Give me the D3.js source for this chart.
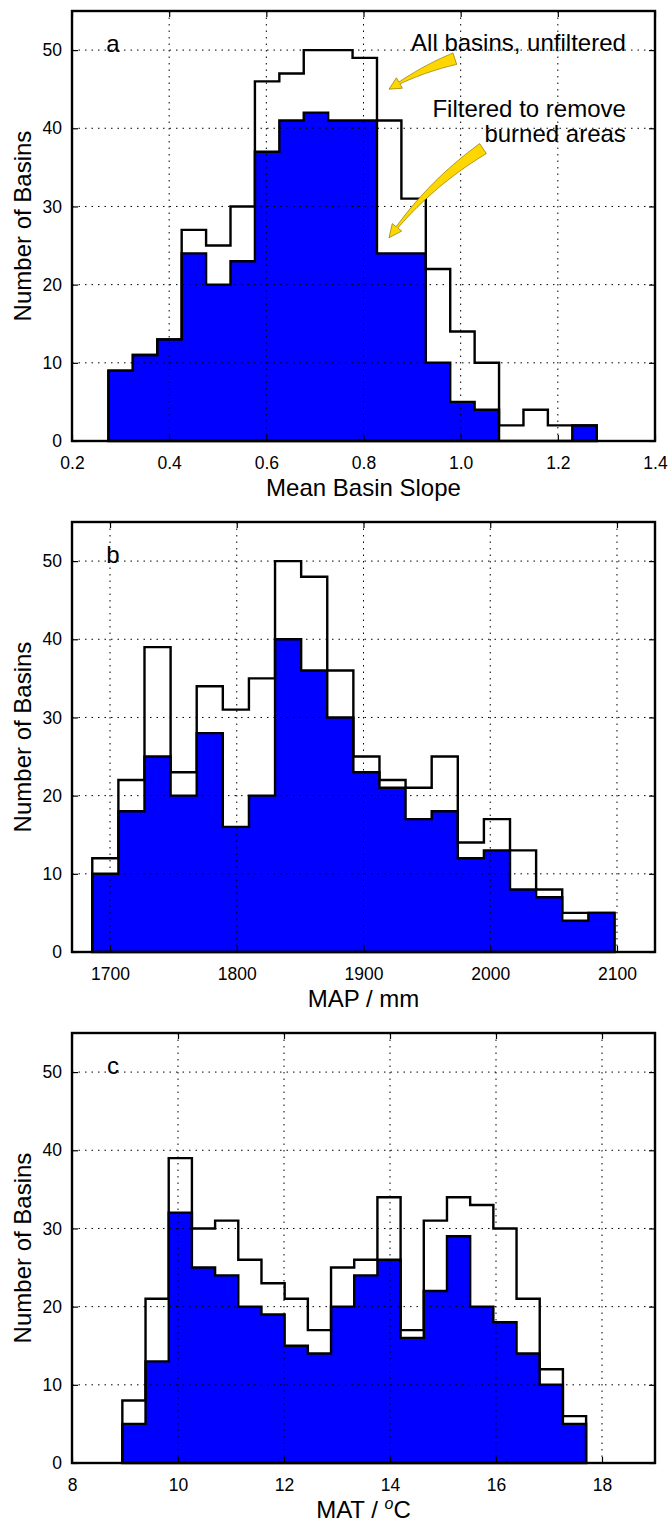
<!DOCTYPE html>
<html>
<head>
<meta charset="utf-8">
<script src="https://cdn.jsdelivr.net/npm/d3@7"></script>
<style>
  body { margin: 0; background: #fff; }
  svg { display: block; }
  text { font-family: "Liberation Sans", Arial, sans-serif; fill: #000; }
</style>
</head>
<body>
<svg width="672" height="1524"></svg>
<script>
// histogram counts, 20 bins per panel
const slopeBinStart = 0.275, slopeBinWidth = 0.05025;
const slopeAll      = [9, 11, 13, 27, 25, 30, 46, 47, 50, 50, 49, 41, 31, 22, 14, 10, 2, 4, 2, 2];
const slopeFiltered = [9, 11, 13, 24, 20, 23, 37, 41, 42, 41, 41, 24, 24, 10, 5, 4, 0, 0, 0, 2];

const mapBinStart = 1686, mapBinWidth = 20.6;
const mapAll      = [12, 22, 39, 23, 34, 31, 35, 50, 48, 36, 25, 22, 21, 25, 14, 17, 13, 8, 5, 5];
const mapFiltered = [10, 18, 25, 20, 28, 16, 20, 40, 36, 30, 23, 21, 17, 18, 12, 13, 8, 7, 4, 5];

const matBinStart = 8.95, matBinWidth = 0.4375;
const matAll      = [8, 21, 39, 30, 31, 26, 23, 21, 17, 25, 26, 34, 17, 31, 34, 33, 30, 21, 12, 6];
const matFiltered = [5, 13, 32, 25, 24, 20, 19, 15, 14, 20, 24, 26, 16, 22, 29, 20, 18, 14, 10, 5];

const yTicks = [0, 10, 20, 30, 40, 50];
const slopeTicks = [0.2, 0.4, 0.6, 0.8, 1.0, 1.2, 1.4];
const mapTicks = [1700, 1800, 1900, 2000, 2100];
const matTicks = [8, 10, 12, 14, 16, 18];

const svg = d3.select('svg');
const left = 72, right = 655;
const plotW = right - left, plotH = 430;
const tickFont = 17.5, labelFont = 24;

const panels = [
  { letter: 'a', top: 11, domain: [0.2, 1.4], ticks: slopeTicks, fmt: d3.format('.1f'),
    start: slopeBinStart, width: slopeBinWidth, all: slopeAll, filt: slopeFiltered, xLabel: 'Mean Basin Slope' },
  { letter: 'b', top: 522, domain: [1670, 2130], ticks: mapTicks, fmt: d3.format('d'),
    start: mapBinStart, width: mapBinWidth, all: mapAll, filt: mapFiltered, xLabel: 'MAP / mm' },
  { letter: 'c', top: 1033, domain: [8, 19], ticks: matTicks, fmt: d3.format('d'),
    start: matBinStart, width: matBinWidth, all: matAll, filt: matFiltered, xLabel: null }
];

function stepPoints(edges, vals) {
  const pts = [[edges[0], 0]];
  vals.forEach((v, i) => { pts.push([edges[i], v]); pts.push([edges[i + 1], v]); });
  pts.push([edges[edges.length - 1], 0]);
  return pts;
}

// matplotlib-like "fancy" arrow along a quadratic curve
function fancyArrow(g, p0, p1, p2) {
  const N = 60;
  const pts = d3.range(N + 1).map(i => {
    const t = i / N, u = 1 - t;
    return [u * u * p0[0] + 2 * u * t * p1[0] + t * t * p2[0],
            u * u * p0[1] + 2 * u * t * p1[1] + t * t * p2[1]];
  });
  const cum = [0];
  for (let i = 1; i <= N; i++) cum.push(cum[i - 1] + Math.hypot(pts[i][0] - pts[i - 1][0], pts[i][1] - pts[i - 1][1]));
  const L = cum[N], headL = 12, headW = 12, tailW = 10;
  const lefts = [], rights = [];
  let base = null;
  for (let i = 0; i <= N; i++) {
    if (cum[i] > L - headL) break;
    const a = pts[Math.max(i - 1, 0)], b = pts[Math.min(i + 1, N)];
    const dx = b[0] - a[0], dy = b[1] - a[1], len = Math.hypot(dx, dy);
    const nx = -dy / len, ny = dx / len;
    const w = (tailW * (1 - cum[i] / (L - headL)) + 2) / 2;
    lefts.push([pts[i][0] + nx * w, pts[i][1] + ny * w]);
    rights.push([pts[i][0] - nx * w, pts[i][1] - ny * w]);
    base = { p: pts[i], nx, ny };
  }
  const hb1 = [base.p[0] + base.nx * headW / 2, base.p[1] + base.ny * headW / 2];
  const hb2 = [base.p[0] - base.nx * headW / 2, base.p[1] - base.ny * headW / 2];
  const poly = lefts.concat([hb1, p2, hb2]).concat(rights.reverse());
  g.append('path')
    .attr('d', 'M' + poly.map(p => p.join(',')).join('L') + 'Z')
    .attr('fill', '#ffd700')
    .attr('stroke', '#8a7400')
    .attr('stroke-width', 0.7);
}

panels.forEach(p => {
  const g = svg.append('g').attr('transform', `translate(${left},${p.top})`);
  const x = d3.scaleLinear().domain(p.domain).range([0, plotW]);
  const y = d3.scaleLinear().domain([0, 55]).range([plotH, 0]);
  const edges = d3.range(p.all.length + 1).map(i => p.start + i * p.width);
  const line = d3.line().x(d => x(d[0])).y(d => y(d[1]));

  g.append('path')
    .attr('d', line(stepPoints(edges, p.filt)) + 'Z')
    .attr('fill', '#0000ff')
    .attr('stroke', '#000')
    .attr('stroke-width', 2.4)
    .attr('stroke-linejoin', 'miter');

  // dotted grid on top of the bars
  const grid = g.append('g').attr('stroke', '#000').attr('stroke-width', 1).attr('stroke-dasharray', '1.5,5');
  grid.selectAll('.gx').data(p.ticks).join('line')
    .attr('x1', d => x(d)).attr('x2', d => x(d)).attr('y1', 0).attr('y2', plotH);
  grid.selectAll('.gy').data(yTicks).join('line')
    .attr('x1', 0).attr('x2', plotW).attr('y1', d => y(d)).attr('y2', d => y(d));

  g.append('path')
    .attr('d', line(stepPoints(edges, p.all)))
    .attr('fill', 'none')
    .attr('stroke', '#000')
    .attr('stroke-width', 2.4)
    .attr('stroke-linejoin', 'miter');

  // axes with inward ticks on all four sides
  const xAxisG = g.append('g').attr('transform', `translate(0,${plotH})`)
    .call(d3.axisBottom(x).tickValues(p.ticks).tickFormat(p.fmt).tickSize(-6).tickPadding(15.5));
  const yAxisG = g.append('g')
    .call(d3.axisLeft(y).tickValues(yTicks).tickSize(-6).tickPadding(10));
  g.append('g').call(d3.axisTop(x).tickValues(p.ticks).tickFormat('').tickSize(-6));
  g.append('g').attr('transform', `translate(${plotW},0)`)
    .call(d3.axisRight(y).tickValues(yTicks).tickFormat('').tickSize(-6));
  g.selectAll('.domain').remove();
  g.selectAll('.tick line').attr('stroke', '#000').attr('stroke-width', 1.2);
  [xAxisG, yAxisG].forEach(a => a.selectAll('text')
    .attr('font-size', tickFont).attr('font-family', '"Liberation Sans", Arial, sans-serif').attr('fill', '#000'));

  g.append('rect')
    .attr('width', plotW).attr('height', plotH)
    .attr('fill', 'none').attr('stroke', '#000').attr('stroke-width', 2.4);

  g.append('text')
    .attr('x', 41).attr('y', y(50)).attr('dy', '0.1em')
    .attr('text-anchor', 'middle').attr('font-size', labelFont)
    .text(p.letter);

  g.append('text')
    .attr('transform', `translate(${22 - left},${plotH / 2}) rotate(-90)`)
    .attr('dy', '0.36em')
    .attr('text-anchor', 'middle').attr('font-size', labelFont)
    .text('Number of Basins');

  const xl = g.append('text')
    .attr('x', plotW / 2).attr('y', plotH + 55)
    .attr('text-anchor', 'middle').attr('font-size', labelFont);
  if (p.xLabel) {
    xl.text(p.xLabel);
  } else {
    xl.append('tspan').text('MAT / ');
    xl.append('tspan').attr('font-style', 'italic').attr('font-size', 16).attr('dy', -9).text('o');
    xl.append('tspan').attr('dy', 9).text('C');
  }

  if (p.letter === 'a') {
    g.append('text')
      .attr('x', x(1.34)).attr('y', y(49.9))
      .attr('text-anchor', 'end').attr('font-size', labelFont)
      .text('All basins, unfiltered');
    g.append('text')
      .attr('x', x(1.34)).attr('y', y(41.5))
      .attr('text-anchor', 'end').attr('font-size', labelFont)
      .text('Filtered to remove');
    g.append('text')
      .attr('x', x(1.34)).attr('y', y(38.2))
      .attr('text-anchor', 'end').attr('font-size', labelFont)
      .text('burned areas');

    const t1 = [x(0.988), y(48.9)], h1 = [x(0.8525), y(45)];
    const t2 = [x(1.046), y(37.4)], h2 = [x(0.8525), y(26)];
    fancyArrow(g, t1, [(t1[0] + h1[0]) / 2 - 2, (t1[1] + h1[1]) / 2 - 4], h1);
    fancyArrow(g, t2, [(t2[0] + h2[0]) / 2 - 8, (t2[1] + h2[1]) / 2 - 8], h2);
  }
});
</script>
</body>
</html>
